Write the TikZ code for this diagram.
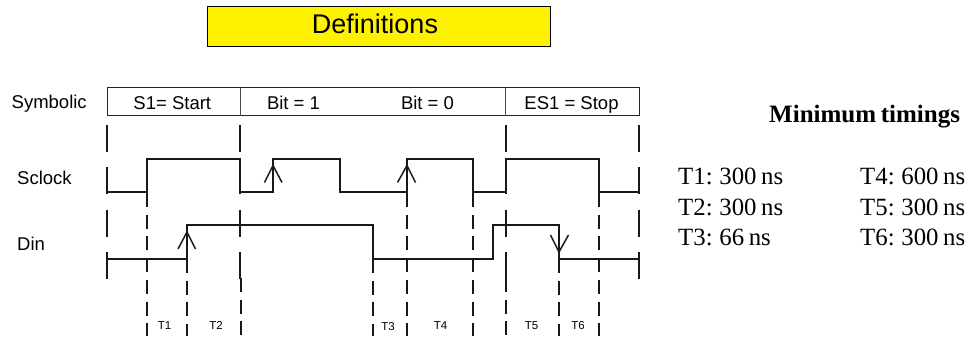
\documentclass[tikz,border=0pt]{standalone}
\usepackage{fontspec}
\setmainfont[WordSpace=0.75]{Liberation Serif}
\setsansfont{Liberation Sans}
\tikzset{
  x=1pt,y=-1pt,
  sig/.style={line width=1.5pt,black!90,line cap=butt,line join=miter},
  longdash/.style={line width=1.5pt,black!90,dash pattern=on 27pt off 15.3pt},
  shortdash/.style={line width=1.5pt,black!90,dash pattern=on 14pt off 7.7pt},
  lab/.style={font=\sffamily\fontsize{18.5}{20}\selectfont,inner sep=0pt,anchor=base west},
  tlab/.style={font=\sffamily\fontsize{11.5}{13}\selectfont,inner sep=0pt,anchor=base},
  timing/.style={font=\rmfamily\fontsize{24.8}{27}\selectfont,inner sep=0pt,anchor=base west},
}
\begin{document}
\begin{tikzpicture}
\useasboundingbox (0,0) rectangle (977,340);
% title
\node[draw=black,line width=1.3pt,fill=yellow,minimum width=343pt,minimum height=39.5pt,inner sep=0pt,anchor=north west] (title) at (207,6) {};
\node[font=\sffamily\fontsize{27}{30}\selectfont,inner sep=0pt,anchor=base] (deftext) at (375,33.3) {Definitions};
% symbolic row
\draw[line width=1.1pt,black!85] (107.5,87.5) rectangle (639.5,115.5);
\draw[line width=1.1pt,black!70] (240.5,87.5) -- (240.5,115.5);
\draw[line width=1.1pt,black!70] (505.5,87.5) -- (505.5,115.5);
\node[lab] (symbolic) at (11.5,108) {Symbolic};
\node[lab,anchor=base] (s1) at (172.3,109) {S1= Start};
\node[lab,anchor=base] (b1) at (293.5,109) {Bit = 1};
\node[lab,anchor=base] (b0) at (427.5,109) {Bit = 0};
\node[lab,anchor=base] (es) at (571.5,109) {ES1 = Stop};
\node[lab] (sclock) at (17,184) {Sclock};
\node[lab] (din) at (17,250) {Din};
% long dashed verticals
\foreach \xx in {107,240,506,639}
  \draw[longdash] (\xx,125) -- (\xx,280);
% short dashed verticals
\foreach \xx/\yy in {147/193,187/259,241/278,373/259,407/193,473/193,506/278,559/259,599/193}
  \draw[shortdash] (\xx,\yy) -- (\xx,336);
% Sclock
\draw[sig] (107,192) -- (147,192) -- (147,159) -- (240,159) -- (240,192) -- (273,192) -- (273,159)
  -- (340,159) -- (340,192) -- (407,192) -- (407,159) -- (473,159) -- (473,192) -- (506,192)
  -- (506,159) -- (599,159) -- (599,192) -- (639,192);
% Din
\draw[sig] (107,259) -- (187,259) -- (187,225) -- (373,225) -- (373,259) -- (493,259) -- (493,225)
  -- (559,225) -- (559,259) -- (639,259);
% edge arrows
\draw[sig] (264.5,182.5) -- (273,165.5) -- (282,182.5);
\draw[sig] (397.5,182.5) -- (407,165.5) -- (415.5,182.5);
\draw[sig] (178,249) -- (187,232) -- (195.5,249);
\draw[sig] (550.5,235) -- (559,252) -- (568.5,235);
% T labels
\node[tlab] (t1) at (164.5,329) {T1};
\node[tlab] (t2) at (216,329) {T2};
\node[tlab] (t3) at (388,330) {T3};
\node[tlab] (t4) at (440.5,329) {T4};
\node[tlab] (t5) at (531.5,329) {T5};
\node[tlab] (t6) at (578,329) {T6};
% timings
\node[font=\rmfamily\bfseries\fontsize{25}{27}\selectfont,inner sep=0pt,anchor=base west] (mt) at (769,122.7) {Minimum timings};
\node[timing] (a1) at (678,184) {T1: 300 ns};
\node[timing] (a2) at (678,215) {T2: 300 ns};
\node[timing] (a3) at (678,245) {T3: 66 ns};
\node[timing] (a4) at (860,184) {T4: 600 ns};
\node[timing] (a5) at (860,215) {T5: 300 ns};
\node[timing] (a6) at (860,245) {T6: 300 ns};
\end{tikzpicture}
\end{document}
